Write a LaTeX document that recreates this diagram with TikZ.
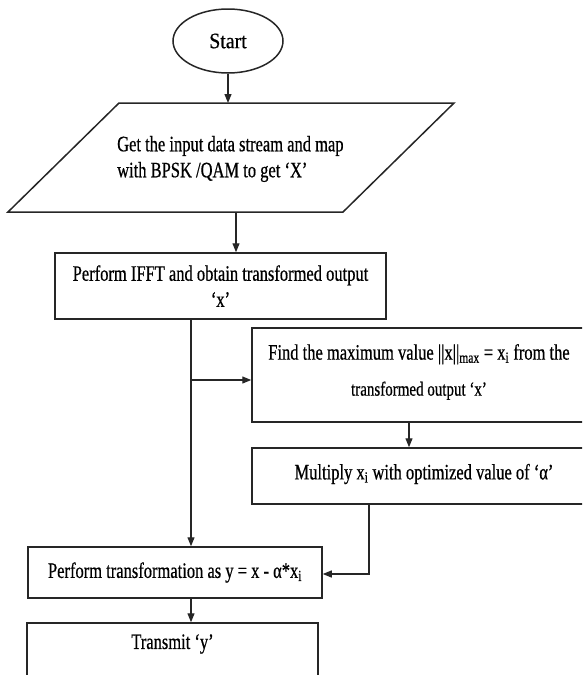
\documentclass[tikz,border=0pt]{standalone}
\usepackage{fontspec}
\setmainfont[FakeStretch=0.75,FakeBold=0.6]{Liberation Serif}
\newfontfamily\startfont[FakeStretch=0.9,FakeBold=0.6]{Liberation Serif}
\usetikzlibrary{arrows.meta,shapes.geometric}
\tikzset{
  box/.style={draw=black!85, rectangle, line width=1.5pt, inner sep=0pt, align=center},
  arr/.style={line width=1.2pt, draw=black!85, -{Triangle[length=9pt,width=7pt]}},
  lbl/.style={inner sep=0pt, align=center}
}
\begin{document}
\begin{tikzpicture}[x=1pt,y=-1pt,font=\fontsize{22}{26}\selectfont]
\path[use as bounding box] (0,0) rectangle (582,675);
\clip (0,0) rectangle (582,675);

% start
\node[draw=black!85, ellipse, line width=1.5pt, minimum width=110pt, minimum height=64pt, inner sep=0pt,
      font=\startfont\fontsize{22}{26}\selectfont] (start) at (228,41) {Start};

% input parallelogram
\coordinate (pa) at (119,103);
\coordinate (pb) at (454,103);
\coordinate (pc) at (343,212);
\coordinate (pd) at (8,212);
\draw[draw=black!85, line width=1.5pt] (pa) -- (pb) -- (pc) -- (pd) -- cycle;
\node[anchor=west, align=left, inner sep=0pt] (intext) at (117,159)
  {Get the input data stream and map\\with BPSK /QAM to get ‘X’};
\coordinate (ptop) at (227,103);
\coordinate (pbot) at (236,212);

% boxes
\node[box, minimum width=331pt, minimum height=66pt] (b2) at (220.5,286)
  {Perform IFFT and obtain transformed output\\‘x’};
\node[box, minimum width=360pt, minimum height=94pt] (b3) at (432,375) {};
\node[lbl] (b3text) at (419,372)
  {Find the maximum value ||x||\textsubscript{max} = x\textsubscript{i} from the\\[10pt]{\fontsize{20}{24}\selectfont transformed output ‘x’}};
\node[box, minimum width=360pt, minimum height=56pt] (b4) at (432,476) {};
\node[lbl] (b4text) at (424,474)
  {Multiply x\textsubscript{i} with optimized value of ‘α’};
\node[box, minimum width=294pt, minimum height=51pt] (b5) at (175,572.5)
  {Perform transformation as y = x - α*x\textsubscript{i}};
\node[box, minimum width=291pt, minimum height=67pt] (b6) at (172.5,656.5) {};
\node[lbl] (b6text) at (172.5,644) {Transmit ‘y’};

% connectors
\coordinate (split) at (191,380);
\coordinate (c34) at (409,435);
\coordinate (c45) at (369,574);
\draw[arr] (start.south) -- (start.south |- ptop);
\draw[arr] (pbot) -- (pbot |- b2.north);
\draw[arr] (b2.south -| split) -- (split |- b5.north);
\draw[arr] (split) -- (split -| b3.west);
\draw[arr] (b3.south -| c34) -- (c34 |- b4.north);
\draw[arr] (b4.south -| c45) -- (c45) -- (c45 -| b5.east);
\draw[arr] (b5.south -| split) -- (split |- b6.north);
\end{tikzpicture}
\end{document}
